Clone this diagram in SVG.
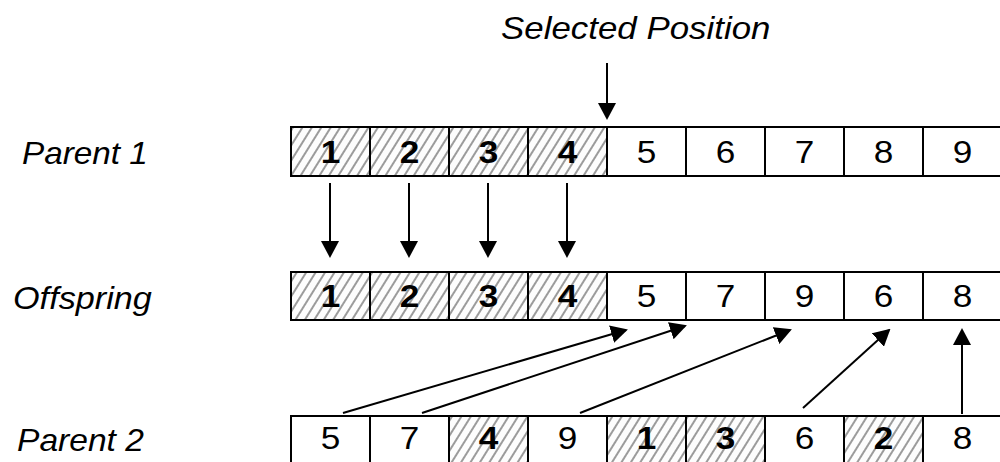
<svg xmlns="http://www.w3.org/2000/svg" width="1000" height="462" viewBox="0 0 1000 462">
  <style>
    .lbl { font-family: "Liberation Sans", Arial, sans-serif; font-size: 32px; font-style: italic; fill: #000; }
    .num { font-family: "Liberation Sans", Arial, sans-serif; font-size: 32px; text-anchor: middle; fill: #000; }
    .bold { font-weight: bold; }
    .cell { fill: #fff; stroke: #000; stroke-width: 2; }
    .hatch { fill: url(#diag); stroke: #000; stroke-width: 2; }
    .arrow { stroke: #000; stroke-width: 2; fill: none; marker-end: url(#head); }
  </style>
  <defs>
    <!-- diagonal hatching for the inherited genes -->
    <pattern id="diag" patternUnits="userSpaceOnUse" width="8" height="8" patternTransform="rotate(32)">
      <rect width="8" height="8" fill="#fdfdfd"/>
      <line x1="4" y1="0" x2="4" y2="8" stroke="#222" stroke-width="0.9"/>
    </pattern>
    <marker id="head" markerUnits="userSpaceOnUse" viewBox="0 0 17 18" refX="15" refY="9" markerWidth="17" markerHeight="18" orient="auto">
      <path d="M0,0 L17,9 L0,18 z" fill="#000"/>
    </marker>
  </defs>

  <!-- title -->
  <text class="lbl" transform="translate(501,39) scale(1.09,1)">Selected Position</text>

  <!-- row labels -->
  <text class="lbl" transform="translate(22,164) scale(1.04,1)">Parent 1</text>
  <text class="lbl" transform="translate(13,309) scale(1.07,1)">Offspring</text>
  <text class="lbl" transform="translate(17,451) scale(1.05,1)">Parent 2</text>

  <!-- Parent 1 -->
  <g id="parent1">
    <rect class="hatch" x="291" y="127" width="79" height="49"/>
    <rect class="hatch" x="370" y="127" width="79" height="49"/>
    <rect class="hatch" x="449" y="127" width="79" height="49"/>
    <rect class="hatch" x="528" y="127" width="79" height="49"/>
    <rect class="cell" x="607" y="127" width="79" height="49"/>
    <rect class="cell" x="686" y="127" width="79" height="49"/>
    <rect class="cell" x="765" y="127" width="79" height="49"/>
    <rect class="cell" x="844" y="127" width="79" height="49"/>
    <rect class="cell" x="923" y="127" width="79" height="49"/>
    <text class="num bold" transform="translate(330.5,163) scale(1.1,1)">1</text>
    <text class="num bold" transform="translate(409.5,163) scale(1.1,1)">2</text>
    <text class="num bold" transform="translate(488.5,163) scale(1.1,1)">3</text>
    <text class="num bold" transform="translate(567.5,163) scale(1.1,1)">4</text>
    <text class="num" transform="translate(646.5,163) scale(1.1,1)">5</text>
    <text class="num" transform="translate(725.5,163) scale(1.1,1)">6</text>
    <text class="num" transform="translate(804.5,163) scale(1.1,1)">7</text>
    <text class="num" transform="translate(883.5,163) scale(1.1,1)">8</text>
    <text class="num" transform="translate(962.5,163) scale(1.1,1)">9</text>
  </g>

  <!-- Offspring -->
  <g id="offspring">
    <rect class="hatch" x="291" y="272" width="79" height="48"/>
    <rect class="hatch" x="370" y="272" width="79" height="48"/>
    <rect class="hatch" x="449" y="272" width="79" height="48"/>
    <rect class="hatch" x="528" y="272" width="79" height="48"/>
    <rect class="cell" x="607" y="272" width="79" height="48"/>
    <rect class="cell" x="686" y="272" width="79" height="48"/>
    <rect class="cell" x="765" y="272" width="79" height="48"/>
    <rect class="cell" x="844" y="272" width="79" height="48"/>
    <rect class="cell" x="923" y="272" width="79" height="48"/>
    <text class="num bold" transform="translate(330.5,307) scale(1.1,1)">1</text>
    <text class="num bold" transform="translate(409.5,307) scale(1.1,1)">2</text>
    <text class="num bold" transform="translate(488.5,307) scale(1.1,1)">3</text>
    <text class="num bold" transform="translate(567.5,307) scale(1.1,1)">4</text>
    <text class="num" transform="translate(646.5,307) scale(1.1,1)">5</text>
    <text class="num" transform="translate(725.5,307) scale(1.1,1)">7</text>
    <text class="num" transform="translate(804.5,307) scale(1.1,1)">9</text>
    <text class="num" transform="translate(883.5,307) scale(1.1,1)">6</text>
    <text class="num" transform="translate(962.5,307) scale(1.1,1)">8</text>
  </g>

  <!-- Parent 2 -->
  <g id="parent2">
    <rect class="cell" x="291" y="416" width="79" height="50"/>
    <rect class="cell" x="370" y="416" width="79" height="50"/>
    <rect class="hatch" x="449" y="416" width="79" height="50"/>
    <rect class="cell" x="528" y="416" width="79" height="50"/>
    <rect class="hatch" x="607" y="416" width="79" height="50"/>
    <rect class="hatch" x="686" y="416" width="79" height="50"/>
    <rect class="cell" x="765" y="416" width="79" height="50"/>
    <rect class="hatch" x="844" y="416" width="79" height="50"/>
    <rect class="cell" x="923" y="416" width="79" height="50"/>
    <text class="num" transform="translate(330.5,449) scale(1.1,1)">5</text>
    <text class="num" transform="translate(409.5,449) scale(1.1,1)">7</text>
    <text class="num bold" transform="translate(488.5,449) scale(1.1,1)">4</text>
    <text class="num" transform="translate(567.5,449) scale(1.1,1)">9</text>
    <text class="num bold" transform="translate(646.5,449) scale(1.1,1)">1</text>
    <text class="num bold" transform="translate(725.5,449) scale(1.1,1)">3</text>
    <text class="num" transform="translate(804.5,449) scale(1.1,1)">6</text>
    <text class="num bold" transform="translate(883.5,449) scale(1.1,1)">2</text>
    <text class="num" transform="translate(962.5,449) scale(1.1,1)">8</text>
  </g>

  <!-- connectors -->
  <g id="connectors">
    <line class="arrow" x1="607" y1="63" x2="607" y2="118"/>
    <line class="arrow" x1="330" y1="183" x2="330" y2="256"/>
    <line class="arrow" x1="409" y1="183" x2="409" y2="256"/>
    <line class="arrow" x1="488" y1="183" x2="488" y2="256"/>
    <line class="arrow" x1="567" y1="183" x2="567" y2="256"/>
    <line class="arrow" x1="343" y1="413" x2="626" y2="330"/>
    <line class="arrow" x1="422" y1="413" x2="685" y2="326"/>
    <line class="arrow" x1="580" y1="413" x2="790" y2="330"/>
    <line class="arrow" x1="803" y1="408" x2="889" y2="330"/>
    <line class="arrow" x1="962" y1="414" x2="962" y2="330"/>
  </g>
</svg>
